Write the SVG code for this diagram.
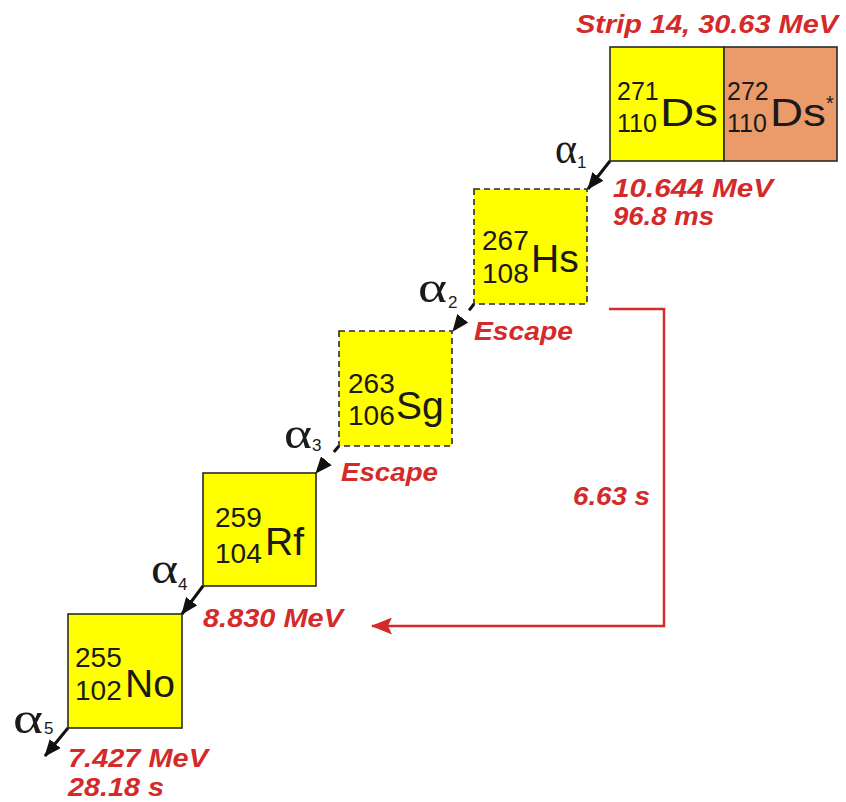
<svg xmlns="http://www.w3.org/2000/svg" width="846" height="802" viewBox="0 0 846 802">
<defs>
<style>
.box{stroke:#2a2a2a;stroke-width:1.6}
.y{fill:#ffff00}
.o{fill:#eb9a6a}
.dash{stroke-dasharray:6 4}
.n{font-family:"Liberation Sans",Arial,sans-serif;fill:#1a1a1a}
.num{font-size:28px}
.el{font-size:39px}
.lab{font-family:"Liberation Sans",Arial,sans-serif;font-weight:bold;font-style:italic;fill:#d42a2a;font-size:26px}
.al{font-family:"Liberation Serif","Times New Roman",serif;font-size:44px;fill:#1a1a1a}
.as{font-family:"Liberation Sans",Arial,sans-serif;font-size:17px;fill:#1a1a1a}
.ar{stroke:#111;stroke-width:3;fill:none}
</style>
<marker id="ah" markerUnits="userSpaceOnUse" markerWidth="17" markerHeight="14" refX="16" refY="7" orient="auto">
<path d="M0,0 L17,7 L0,14 z" fill="#111"/>
</marker>
<marker id="rh" markerUnits="userSpaceOnUse" markerWidth="21" markerHeight="17" refX="20" refY="8.5" orient="auto">
<path d="M0,0 L21,8.5 L0,17 L4,8.5 z" fill="#d42a2a"/>
</marker>
</defs>
<rect width="846" height="802" fill="#ffffff"/>

<g id="ds271">
<rect class="box y" x="610" y="47" width="114" height="114"/>
<text class="n" x="617" y="100" font-size="25">271</text>
<text class="n" x="617" y="132" font-size="25">110</text>
<text class="n" x="660" y="126" font-size="38" textLength="58" lengthAdjust="spacingAndGlyphs">Ds</text>
</g>
<g id="ds272">
<rect class="box o" x="724" y="47" width="113" height="114"/>
<text class="n" x="727" y="100" font-size="25">272</text>
<text class="n" x="727" y="132" font-size="25">110</text>
<text class="n" x="770" y="126" font-size="38" textLength="56" lengthAdjust="spacingAndGlyphs">Ds</text>
<text class="n" x="826" y="110" font-size="20">*</text>
</g>
<g id="hs267">
<rect class="box y dash" x="474" y="189" width="113" height="115"/>
<text class="n num" x="482" y="250">267</text>
<text class="n num" x="482" y="283">108</text>
<text class="n el" x="531" y="272">Hs</text>
</g>
<g id="sg263">
<rect class="box y dash" x="339" y="331" width="113" height="115"/>
<text class="n num" x="348" y="393">263</text>
<text class="n num" x="348" y="425">106</text>
<text class="n el" x="396" y="419">Sg</text>
</g>
<g id="rf259">
<rect class="box y" x="203" y="473" width="113" height="113"/>
<text class="n num" x="215" y="527">259</text>
<text class="n num" x="215" y="563">104</text>
<text class="n el" x="265" y="555">Rf</text>
</g>
<g id="no255">
<rect class="box y" x="68" y="614" width="114" height="114"/>
<text class="n num" x="75" y="667">255</text>
<text class="n num" x="75" y="700">102</text>
<text class="n el" x="125" y="697">No</text>
</g>

<g id="connectors">
<line class="ar" x1="610" y1="161" x2="588" y2="189" marker-end="url(#ah)"/>
<line class="ar" x1="474" y1="304" x2="453" y2="331" stroke-dasharray="8 40" marker-end="url(#ah)"/>
<line class="ar" x1="339" y1="446" x2="316" y2="473" stroke-dasharray="8 40" marker-end="url(#ah)"/>
<line class="ar" x1="203" y1="586" x2="182" y2="614" marker-end="url(#ah)"/>
<line class="ar" x1="68" y1="728" x2="45" y2="756" marker-end="url(#ah)"/>
<polyline points="609,309 664,309 664,626 372,626" fill="none" stroke="#d42a2a" stroke-width="2.5" marker-end="url(#rh)"/>
</g>

<g id="labels">
<text class="al" x="555" y="163" textLength="22" lengthAdjust="spacingAndGlyphs">α</text><text class="as" x="577" y="168">1</text>
<text class="al" x="418" y="302" textLength="29" lengthAdjust="spacingAndGlyphs">α</text><text class="as" x="448" y="308">2</text>
<text class="al" x="284" y="448" textLength="28" lengthAdjust="spacingAndGlyphs">α</text><text class="as" x="312" y="451">3</text>
<text class="al" x="151" y="583" textLength="27" lengthAdjust="spacingAndGlyphs">α</text><text class="as" x="178" y="590">4</text>
<text class="al" x="13" y="733" textLength="30" lengthAdjust="spacingAndGlyphs">α</text><text class="as" x="44" y="734">5</text>

<text class="lab" x="576" y="33" textLength="262" lengthAdjust="spacingAndGlyphs">Strip 14, 30.63 MeV</text>
<text class="lab" x="613" y="197" textLength="160" lengthAdjust="spacingAndGlyphs">10.644 MeV</text>
<text class="lab" x="613" y="225" textLength="101" lengthAdjust="spacingAndGlyphs">96.8 ms</text>
<text class="lab" x="474" y="340" textLength="99" lengthAdjust="spacingAndGlyphs">Escape</text>
<text class="lab" x="341" y="481" textLength="97" lengthAdjust="spacingAndGlyphs">Escape</text>
<text class="lab" x="573" y="505" textLength="77" lengthAdjust="spacingAndGlyphs">6.63 s</text>
<text class="lab" x="203" y="627" textLength="140" lengthAdjust="spacingAndGlyphs">8.830 MeV</text>
<text class="lab" x="68" y="767" textLength="140" lengthAdjust="spacingAndGlyphs">7.427 MeV</text>
<text class="lab" x="68" y="796" textLength="96" lengthAdjust="spacingAndGlyphs">28.18 s</text>
</g>
</svg>
